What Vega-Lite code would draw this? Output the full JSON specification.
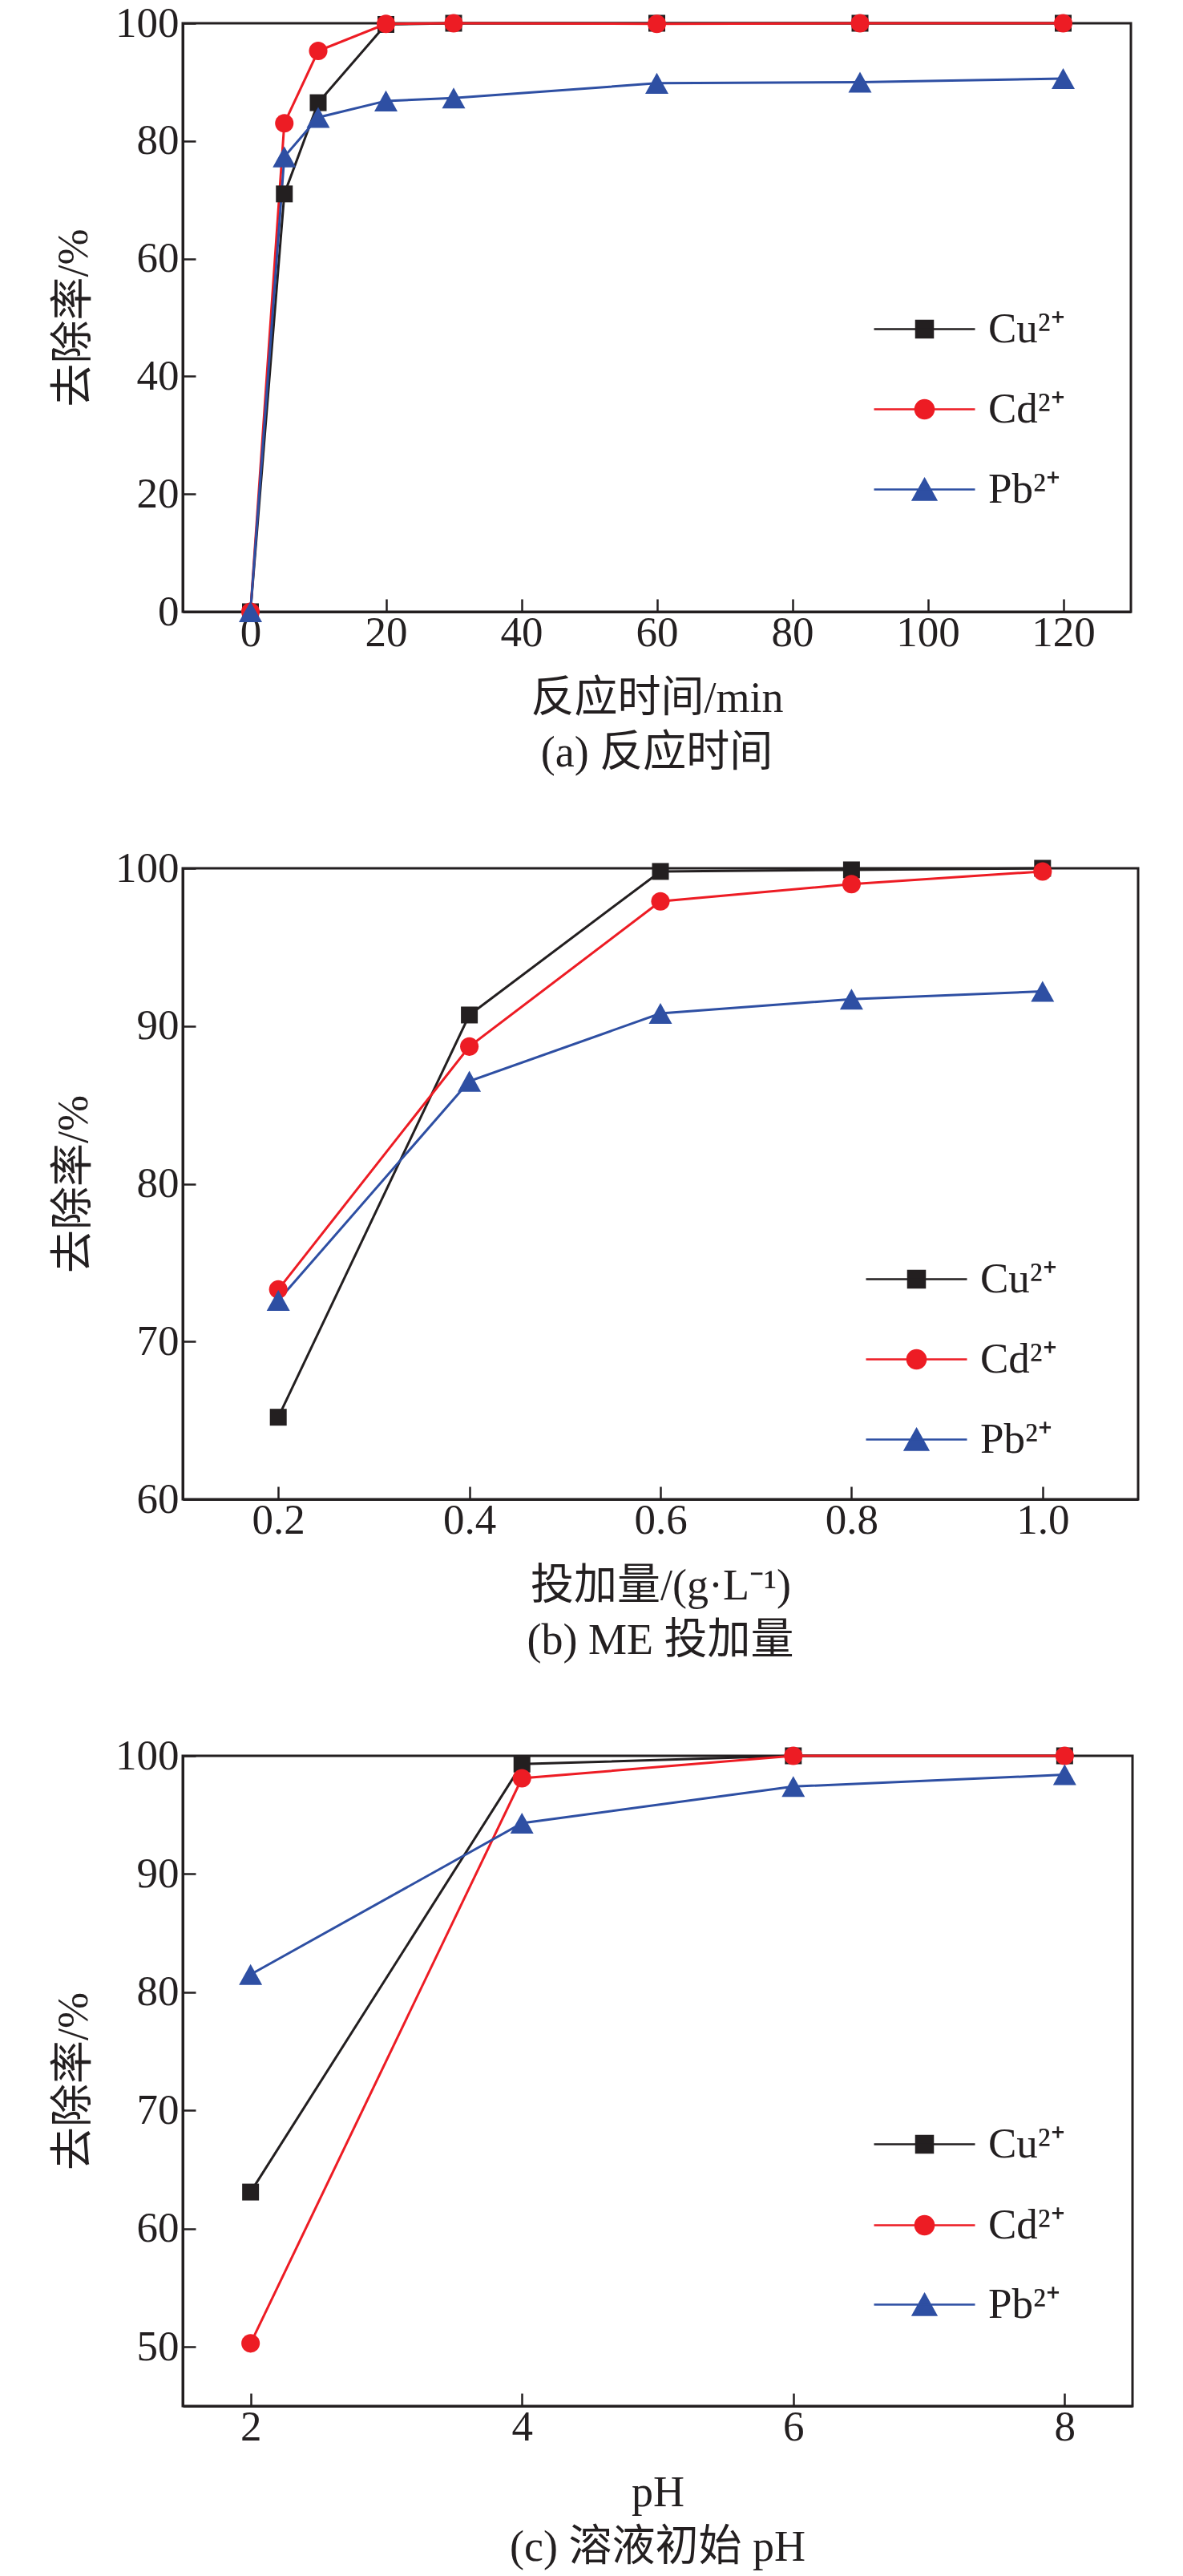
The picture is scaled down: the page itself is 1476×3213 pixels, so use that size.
{
  "$schema": "https://vega.github.io/schema/vega-lite/v6.json",
  "padding": {"top": 1, "left": 64, "right": 0, "bottom": 0},
  "spacing": 86,
  "datasets": {
    "time": [
      {"ion": "Cu²⁺", "x": 0, "removal": 0},
      {"ion": "Cu²⁺", "x": 5, "removal": 71.0},
      {"ion": "Cu²⁺", "x": 10, "removal": 86.5},
      {"ion": "Cu²⁺", "x": 20, "removal": 99.8},
      {"ion": "Cu²⁺", "x": 30, "removal": 100},
      {"ion": "Cu²⁺", "x": 60, "removal": 100},
      {"ion": "Cu²⁺", "x": 90, "removal": 100},
      {"ion": "Cu²⁺", "x": 120, "removal": 100},
      {"ion": "Cd²⁺", "x": 0, "removal": 0},
      {"ion": "Cd²⁺", "x": 5, "removal": 83.0},
      {"ion": "Cd²⁺", "x": 10, "removal": 95.3},
      {"ion": "Cd²⁺", "x": 20, "removal": 99.9},
      {"ion": "Cd²⁺", "x": 30, "removal": 100},
      {"ion": "Cd²⁺", "x": 60, "removal": 99.9},
      {"ion": "Cd²⁺", "x": 90, "removal": 100},
      {"ion": "Cd²⁺", "x": 120, "removal": 100},
      {"ion": "Pb²⁺", "x": 0, "removal": 0},
      {"ion": "Pb²⁺", "x": 5, "removal": 77.3},
      {"ion": "Pb²⁺", "x": 10, "removal": 84.0},
      {"ion": "Pb²⁺", "x": 20, "removal": 86.8},
      {"ion": "Pb²⁺", "x": 30, "removal": 87.3},
      {"ion": "Pb²⁺", "x": 60, "removal": 89.8},
      {"ion": "Pb²⁺", "x": 90, "removal": 90.0},
      {"ion": "Pb²⁺", "x": 120, "removal": 90.6}
    ],
    "dose": [
      {"ion": "Cu²⁺", "x": 0.2, "removal": 65.2},
      {"ion": "Cu²⁺", "x": 0.4, "removal": 90.7},
      {"ion": "Cu²⁺", "x": 0.6, "removal": 99.8},
      {"ion": "Cu²⁺", "x": 0.8, "removal": 99.9},
      {"ion": "Cu²⁺", "x": 1.0, "removal": 100},
      {"ion": "Cd²⁺", "x": 0.2, "removal": 73.3},
      {"ion": "Cd²⁺", "x": 0.4, "removal": 88.7},
      {"ion": "Cd²⁺", "x": 0.6, "removal": 97.9},
      {"ion": "Cd²⁺", "x": 0.8, "removal": 99.0},
      {"ion": "Cd²⁺", "x": 1.0, "removal": 99.8},
      {"ion": "Pb²⁺", "x": 0.2, "removal": 72.6},
      {"ion": "Pb²⁺", "x": 0.4, "removal": 86.5},
      {"ion": "Pb²⁺", "x": 0.6, "removal": 90.8},
      {"ion": "Pb²⁺", "x": 0.8, "removal": 91.7},
      {"ion": "Pb²⁺", "x": 1.0, "removal": 92.2}
    ],
    "ph": [
      {"ion": "Cu²⁺", "x": 2, "removal": 63.1},
      {"ion": "Cu²⁺", "x": 4, "removal": 99.3},
      {"ion": "Cu²⁺", "x": 6, "removal": 100},
      {"ion": "Cu²⁺", "x": 8, "removal": 100},
      {"ion": "Cd²⁺", "x": 2, "removal": 50.3},
      {"ion": "Cd²⁺", "x": 4, "removal": 98.1},
      {"ion": "Cd²⁺", "x": 6, "removal": 100},
      {"ion": "Cd²⁺", "x": 8, "removal": 100},
      {"ion": "Pb²⁺", "x": 2, "removal": 81.5},
      {"ion": "Pb²⁺", "x": 4, "removal": 94.3},
      {"ion": "Pb²⁺", "x": 6, "removal": 97.4},
      {"ion": "Pb²⁺", "x": 8, "removal": 98.4}
    ]
  },
  "vconcat": [
    {
      "data": {"name": "time"},
      "width": 1183,
      "height": 734,
      "title": {"text": "(a) 反应时间"},
      "encoding": {
        "x": {"field": "x", "type": "quantitative",
          "scale": {"domain": [-10, 130], "nice": false, "zero": false},
          "axis": {"values": [0, 20, 40, 60, 80, 100, 120], "title": "反应时间/min"}},
        "y": {"field": "removal", "type": "quantitative",
          "scale": {"domain": [0, 100], "nice": false},
          "axis": {"values": [0, 20, 40, 60, 80, 100], "title": "去除率/%"}}
      },
      "resolve": {"scale": {"shape": "independent"}},
      "layer": [
        {"mark": {"type": "line", "strokeWidth": 3},
         "encoding": {"color": {"field": "ion", "type": "nominal",
           "scale": {"domain": ["Cu²⁺", "Cd²⁺", "Pb²⁺"], "range": ["#231F20", "#ED1C24", "#2E4FA3"]}, "legend": null}}},
        {"mark": {"type": "point", "filled": true, "opacity": 1, "size": 1764},
         "encoding": {
           "color": {"field": "ion", "type": "nominal", "legend": null},
           "shape": {"field": "ion", "type": "nominal",
             "scale": {"domain": ["Cu²⁺", "Cd²⁺", "Pb²⁺"], "range": [
               "M-0.5,-0.5H0.5V0.5H-0.5Z",
               "M-0.55,0A0.55,0.55,0,1,0,0.55,0A0.55,0.55,0,1,0,-0.55,0Z",
               "M0,-0.62L0.69,0.62L-0.69,0.62Z"]}, "legend": null}}},
        {"transform": [{"filter": "false"}],
         "mark": {"type": "point", "filled": true, "opacity": 1, "size": 1764, "fill": "#231F20", "stroke": "#231F20", "strokeWidth": 2.5},
         "encoding": {"shape": {"field": "ion", "type": "nominal",
           "scale": {"domain": ["Cu²⁺"], "range": ["M-3,0H3M-0.5,-0.5H0.5V0.5H-0.5Z"]},
           "legend": {"orient": "none", "legendX": 899, "legendY": 355}}}},
        {"transform": [{"filter": "false"}],
         "mark": {"type": "point", "filled": true, "opacity": 1, "size": 1764, "fill": "#ED1C24", "stroke": "#ED1C24", "strokeWidth": 2.5},
         "encoding": {"shape": {"field": "ion", "type": "nominal",
           "scale": {"domain": ["Cd²⁺"], "range": ["M-3,0H3M-0.55,0A0.55,0.55,0,1,0,0.55,0A0.55,0.55,0,1,0,-0.55,0Z"]},
           "legend": {"orient": "none", "legendX": 899, "legendY": 455}}}},
        {"transform": [{"filter": "false"}],
         "mark": {"type": "point", "filled": true, "opacity": 1, "size": 1764, "fill": "#2E4FA3", "stroke": "#2E4FA3", "strokeWidth": 2.5},
         "encoding": {"shape": {"field": "ion", "type": "nominal",
           "scale": {"domain": ["Pb²⁺"], "range": ["M-3,0H3M0,-0.62L0.69,0.62L-0.69,0.62Z"]},
           "legend": {"orient": "none", "legendX": 899, "legendY": 555}}}}
      ]
    },
    {
      "data": {"name": "dose"},
      "width": 1192,
      "height": 787,
      "title": {"text": "(b) ME 投加量"},
      "encoding": {
        "x": {"field": "x", "type": "quantitative",
          "scale": {"domain": [0.1, 1.1], "nice": false, "zero": false},
          "axis": {"values": [0.2, 0.4, 0.6, 0.8, 1.0], "format": ".1f", "title": "投加量/(g·L⁻¹)"}},
        "y": {"field": "removal", "type": "quantitative",
          "scale": {"domain": [60, 100], "nice": false, "zero": false},
          "axis": {"values": [60, 70, 80, 90, 100], "title": "去除率/%"}}
      },
      "resolve": {"scale": {"shape": "independent"}},
      "layer": [
        {"mark": {"type": "line", "strokeWidth": 3},
         "encoding": {"color": {"field": "ion", "type": "nominal",
           "scale": {"domain": ["Cu²⁺", "Cd²⁺", "Pb²⁺"], "range": ["#231F20", "#ED1C24", "#2E4FA3"]}, "legend": null}}},
        {"mark": {"type": "point", "filled": true, "opacity": 1, "size": 1764},
         "encoding": {
           "color": {"field": "ion", "type": "nominal", "legend": null},
           "shape": {"field": "ion", "type": "nominal",
             "scale": {"domain": ["Cu²⁺", "Cd²⁺", "Pb²⁺"], "range": [
               "M-0.5,-0.5H0.5V0.5H-0.5Z",
               "M-0.55,0A0.55,0.55,0,1,0,0.55,0A0.55,0.55,0,1,0,-0.55,0Z",
               "M0,-0.62L0.69,0.62L-0.69,0.62Z"]}, "legend": null}}},
        {"transform": [{"filter": "false"}],
         "mark": {"type": "point", "filled": true, "opacity": 1, "size": 1764, "fill": "#231F20", "stroke": "#231F20", "strokeWidth": 2.5},
         "encoding": {"shape": {"field": "ion", "type": "nominal",
           "scale": {"domain": ["Cu²⁺"], "range": ["M-3,0H3M-0.5,-0.5H0.5V0.5H-0.5Z"]},
           "legend": {"orient": "none", "legendX": 889, "legendY": 486}}}},
        {"transform": [{"filter": "false"}],
         "mark": {"type": "point", "filled": true, "opacity": 1, "size": 1764, "fill": "#ED1C24", "stroke": "#ED1C24", "strokeWidth": 2.5},
         "encoding": {"shape": {"field": "ion", "type": "nominal",
           "scale": {"domain": ["Cd²⁺"], "range": ["M-3,0H3M-0.55,0A0.55,0.55,0,1,0,0.55,0A0.55,0.55,0,1,0,-0.55,0Z"]},
           "legend": {"orient": "none", "legendX": 889, "legendY": 586}}}},
        {"transform": [{"filter": "false"}],
         "mark": {"type": "point", "filled": true, "opacity": 1, "size": 1764, "fill": "#2E4FA3", "stroke": "#2E4FA3", "strokeWidth": 2.5},
         "encoding": {"shape": {"field": "ion", "type": "nominal",
           "scale": {"domain": ["Pb²⁺"], "range": ["M-3,0H3M0,-0.62L0.69,0.62L-0.69,0.62Z"]},
           "legend": {"orient": "none", "legendX": 889, "legendY": 686}}}}
      ]
    },
    {
      "data": {"name": "ph"},
      "width": 1185,
      "height": 811,
      "title": {"text": "(c) 溶液初始 pH"},
      "encoding": {
        "x": {"field": "x", "type": "quantitative",
          "scale": {"domain": [1.5, 8.5], "nice": false, "zero": false},
          "axis": {"values": [2, 4, 6, 8], "title": "pH"}},
        "y": {"field": "removal", "type": "quantitative",
          "scale": {"domain": [45, 100], "nice": false, "zero": false},
          "axis": {"values": [50, 60, 70, 80, 90, 100], "title": "去除率/%"}}
      },
      "resolve": {"scale": {"shape": "independent"}},
      "layer": [
        {"mark": {"type": "line", "strokeWidth": 3},
         "encoding": {"color": {"field": "ion", "type": "nominal",
           "scale": {"domain": ["Cu²⁺", "Cd²⁺", "Pb²⁺"], "range": ["#231F20", "#ED1C24", "#2E4FA3"]}, "legend": null}}},
        {"mark": {"type": "point", "filled": true, "opacity": 1, "size": 1764},
         "encoding": {
           "color": {"field": "ion", "type": "nominal", "legend": null},
           "shape": {"field": "ion", "type": "nominal",
             "scale": {"domain": ["Cu²⁺", "Cd²⁺", "Pb²⁺"], "range": [
               "M-0.5,-0.5H0.5V0.5H-0.5Z",
               "M-0.55,0A0.55,0.55,0,1,0,0.55,0A0.55,0.55,0,1,0,-0.55,0Z",
               "M0,-0.62L0.69,0.62L-0.69,0.62Z"]}, "legend": null}}},
        {"transform": [{"filter": "false"}],
         "mark": {"type": "point", "filled": true, "opacity": 1, "size": 1764, "fill": "#231F20", "stroke": "#231F20", "strokeWidth": 2.5},
         "encoding": {"shape": {"field": "ion", "type": "nominal",
           "scale": {"domain": ["Cu²⁺"], "range": ["M-3,0H3M-0.5,-0.5H0.5V0.5H-0.5Z"]},
           "legend": {"orient": "none", "legendX": 899, "legendY": 458}}}},
        {"transform": [{"filter": "false"}],
         "mark": {"type": "point", "filled": true, "opacity": 1, "size": 1764, "fill": "#ED1C24", "stroke": "#ED1C24", "strokeWidth": 2.5},
         "encoding": {"shape": {"field": "ion", "type": "nominal",
           "scale": {"domain": ["Cd²⁺"], "range": ["M-3,0H3M-0.55,0A0.55,0.55,0,1,0,0.55,0A0.55,0.55,0,1,0,-0.55,0Z"]},
           "legend": {"orient": "none", "legendX": 899, "legendY": 559}}}},
        {"transform": [{"filter": "false"}],
         "mark": {"type": "point", "filled": true, "opacity": 1, "size": 1764, "fill": "#2E4FA3", "stroke": "#2E4FA3", "strokeWidth": 2.5},
         "encoding": {"shape": {"field": "ion", "type": "nominal",
           "scale": {"domain": ["Pb²⁺"], "range": ["M-3,0H3M0,-0.62L0.69,0.62L-0.69,0.62Z"]},
           "legend": {"orient": "none", "legendX": 899, "legendY": 658}}}}
      ]
    }
  ],
  "config": {
    "font": "Liberation Serif, Noto Sans CJK SC",
    "view": {"stroke": "#231F20", "strokeWidth": 3},
    "axis": {
      "grid": false,
      "domainColor": "#231F20",
      "domainWidth": 3,
      "tickColor": "#231F20",
      "tickWidth": 2.5,
      "tickSize": -16,
      "labelFont": "Liberation Serif",
      "labelFontSize": 53,
      "labelColor": "#231F20",
      "labelFlush": false,
      "labelOverlap": false,
      "titleFont": "Liberation Serif, Noto Sans CJK SC",
      "titleFontSize": 54,
      "titleFontWeight": "normal",
      "titleColor": "#231F20"
    },
    "axisX": {"labelPadding": 16, "titlePadding": 28},
    "axisY": {"labelPadding": 21, "titlePadding": 24},
    "legend": {
      "title": null,
      "padding": 0,
      "symbolSize": 1764,
      "symbolStrokeWidth": 2.5,
      "labelFont": "Liberation Serif",
      "labelFontSize": 53,
      "labelColor": "#231F20",
      "labelOffset": 53,
      "labelLimit": 0
    },
    "title": {
      "orient": "bottom",
      "anchor": "middle",
      "frame": "group",
      "font": "Liberation Serif, Noto Sans CJK SC",
      "fontSize": 54,
      "fontWeight": "normal",
      "color": "#231F20",
      "offset": 15
    }
  }
}
